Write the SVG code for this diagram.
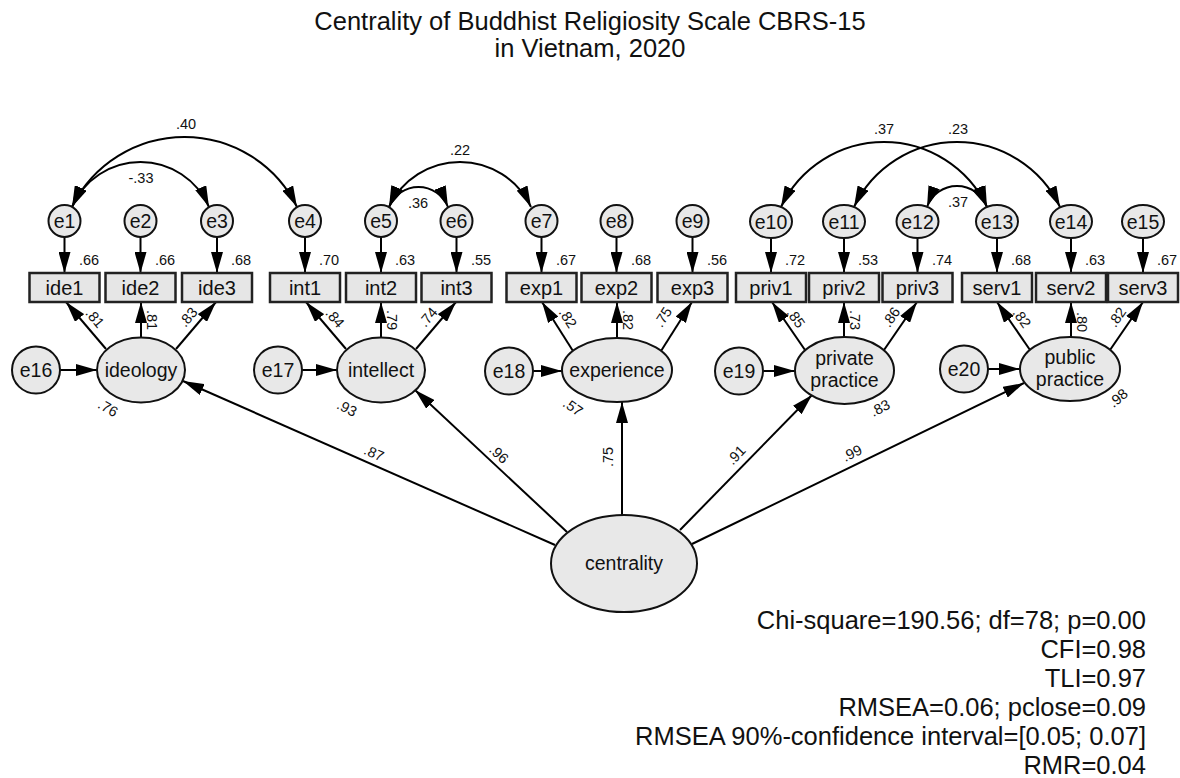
<svg xmlns="http://www.w3.org/2000/svg" width="1180" height="778" viewBox="0 0 1180 778">
<defs>
<marker id="ah" viewBox="0 0 21 12" refX="21" refY="6" markerWidth="21" markerHeight="12" markerUnits="userSpaceOnUse" orient="auto-start-reverse"><path d="M0,0 L21,6 L0,12 z" fill="#000"/></marker>
</defs>
<style>
text{font-family:"Liberation Sans",Arial,sans-serif;fill:#111}
.title{font-size:25.5px;text-anchor:middle}
.stat{font-size:25.5px;text-anchor:end}
.obs rect{fill:#e6e6e6;stroke:#222;stroke-width:2.5}
.lat ellipse,.err ellipse,.err circle{fill:#e8e8e8;stroke:#111;stroke-width:2}
.nt{font-size:20px;text-anchor:middle}
.lt{font-size:19.5px;text-anchor:middle}
.num{font-size:14.5px}
.c{text-anchor:middle}
.s{text-anchor:start}
#connectors path,#connectors line{stroke:#000;stroke-width:2;fill:none;marker-end:url(#ah)}
#connectors .cov{marker-start:url(#ah)}
</style>
<rect width="1180" height="778" fill="#fff"/>
<text class="title" x="590" y="30">Centrality of Buddhist Religiosity Scale CBRS-15</text>
<text class="title" x="590" y="57">in Vietnam, 2020</text>

<g id="connectors">
<path class="cov" d="M72,207 A125.4,125.4 0 0 1 297,207"/>
<path class="cov" d="M72,207 A74.6,74.6 0 0 1 209,207"/>
<path class="cov" d="M389,207 A78.5,78.5 0 0 1 531,207"/>
<path class="cov" d="M389,207 A31.8,31.8 0 0 1 448,207"/>
<path class="cov" d="M781,207 A114.1,114.1 0 0 1 987,207"/>
<path class="cov" d="M854,207 A114.1,114.1 0 0 1 1060,207"/>
<path class="cov" d="M927,207 A31.9,31.9 0 0 1 987,207"/>
<line x1="64.5" y1="237" x2="64.5" y2="273"/>
<line x1="140.5" y1="237" x2="140.5" y2="273"/>
<line x1="217" y1="237" x2="217" y2="273"/>
<line x1="305" y1="237" x2="305" y2="273"/>
<line x1="381" y1="237" x2="381" y2="273"/>
<line x1="456.5" y1="237" x2="456.5" y2="273"/>
<line x1="541.5" y1="237" x2="541.5" y2="273"/>
<line x1="616.5" y1="237" x2="616.5" y2="273"/>
<line x1="692.5" y1="237" x2="692.5" y2="273"/>
<line x1="771" y1="238" x2="771" y2="273"/>
<line x1="844" y1="238" x2="844" y2="273"/>
<line x1="917.5" y1="238" x2="917.5" y2="273"/>
<line x1="997" y1="238" x2="997" y2="273"/>
<line x1="1071" y1="238" x2="1071" y2="273"/>
<line x1="1143" y1="238" x2="1143" y2="273"/>
<line x1="106" y1="349" x2="66" y2="302"/>
<line x1="141" y1="337.5" x2="141" y2="302"/>
<line x1="176" y1="349" x2="216" y2="302"/>
<line x1="346" y1="349" x2="306" y2="302"/>
<line x1="381" y1="337.5" x2="381" y2="302"/>
<line x1="416" y1="349" x2="456" y2="302"/>
<line x1="573" y1="351" x2="542" y2="302"/>
<line x1="617" y1="338" x2="617" y2="302"/>
<line x1="661" y1="351" x2="692" y2="302"/>
<line x1="805" y1="350" x2="772" y2="302"/>
<line x1="844" y1="337" x2="844" y2="302"/>
<line x1="884" y1="350" x2="917" y2="302"/>
<line x1="1030" y1="350" x2="997" y2="302"/>
<line x1="1071" y1="337" x2="1071" y2="302"/>
<line x1="1110" y1="350" x2="1143" y2="302"/>
<line x1="60" y1="370" x2="97" y2="370"/>
<line x1="302" y1="370" x2="337" y2="370"/>
<line x1="533" y1="371" x2="562" y2="371"/>
<line x1="763" y1="371" x2="795" y2="371"/>
<line x1="988" y1="369" x2="1020" y2="369"/>
<line x1="555" y1="545" x2="183" y2="381"/>
<line x1="567" y1="532" x2="415" y2="390"/>
<line x1="622" y1="515" x2="622" y2="402"/>
<line x1="680" y1="530" x2="812" y2="395"/>
<line x1="692" y1="544" x2="1024" y2="383"/>
</g>

<g id="labels" class="num">
<text class="c" x="186" y="129">.40</text>
<text class="c" x="141" y="183">-.33</text>
<text class="c" x="460" y="155">.22</text>
<text class="c" x="418" y="208">.36</text>
<text class="c" x="884" y="134">.37</text>
<text class="c" x="958" y="134">.23</text>
<text class="c" x="958" y="207">.37</text>
<text class="s" x="79" y="265">.66</text>
<text class="s" x="155" y="265">.66</text>
<text class="s" x="231" y="265">.68</text>
<text class="s" x="319" y="265">.70</text>
<text class="s" x="395" y="265">.63</text>
<text class="s" x="471" y="265">.55</text>
<text class="s" x="556" y="265">.67</text>
<text class="s" x="631" y="265">.68</text>
<text class="s" x="707" y="265">.56</text>
<text class="s" x="785" y="265">.72</text>
<text class="s" x="858" y="265">.53</text>
<text class="s" x="932" y="265">.74</text>
<text class="s" x="1011" y="265">.68</text>
<text class="s" x="1085" y="265">.63</text>
<text class="s" x="1157" y="265">.67</text>
<g class="c">
<text transform="translate(95,318) rotate(50)" dy=".35em">.81</text>
<text transform="translate(152,320) rotate(90)" dy=".35em">.81</text>
<text transform="translate(188,317) rotate(-50)" dy=".35em">.83</text>
<text transform="translate(335,318) rotate(50)" dy=".35em">.84</text>
<text transform="translate(392,320) rotate(90)" dy=".35em">.79</text>
<text transform="translate(428,317) rotate(-50)" dy=".35em">.74</text>
<text transform="translate(568,318) rotate(57)" dy=".35em">.82</text>
<text transform="translate(628,320) rotate(90)" dy=".35em">.82</text>
<text transform="translate(663,317) rotate(-57)" dy=".35em">.75</text>
<text transform="translate(796,318) rotate(55)" dy=".35em">.85</text>
<text transform="translate(855,320) rotate(90)" dy=".35em">.73</text>
<text transform="translate(891,317) rotate(-55)" dy=".35em">.86</text>
<text transform="translate(1022,318) rotate(55)" dy=".35em">.82</text>
<text transform="translate(1082,322) rotate(90)" dy=".35em">.80</text>
<text transform="translate(1117,317) rotate(-55)" dy=".35em">.82</text>
<text transform="translate(108,408) rotate(30)" dy=".35em">.76</text>
<text transform="translate(347,408) rotate(27)" dy=".35em">.93</text>
<text transform="translate(573,407) rotate(35)" dy=".35em">.57</text>
<text transform="translate(880,408) rotate(-27)" dy=".35em">.83</text>
<text transform="translate(1118,398) rotate(-40)" dy=".35em">.98</text>
<text transform="translate(374,453) rotate(24)" dy=".35em">.87</text>
<text transform="translate(499,454) rotate(43)" dy=".35em">.96</text>
<text transform="translate(608,457) rotate(-90)" dy=".35em">.75</text>
<text transform="translate(736,455) rotate(-46)" dy=".35em">.91</text>
<text transform="translate(852,453) rotate(-26)" dy=".35em">.99</text>
</g>
</g>

<g id="e1" class="err"><circle cx="64.5" cy="221" r="16"/><text class="lt" x="64.5" y="228">e1</text></g>
<g id="e2" class="err"><circle cx="140.5" cy="221" r="16"/><text class="lt" x="140.5" y="228">e2</text></g>
<g id="e3" class="err"><circle cx="217" cy="221" r="16"/><text class="lt" x="217" y="228">e3</text></g>
<g id="e4" class="err"><circle cx="305" cy="221" r="16"/><text class="lt" x="305" y="228">e4</text></g>
<g id="e5" class="err"><circle cx="381" cy="221" r="16"/><text class="lt" x="381" y="228">e5</text></g>
<g id="e6" class="err"><circle cx="456.5" cy="221" r="16"/><text class="lt" x="456.5" y="228">e6</text></g>
<g id="e7" class="err"><circle cx="541.5" cy="221" r="16"/><text class="lt" x="541.5" y="228">e7</text></g>
<g id="e8" class="err"><circle cx="616.5" cy="221" r="16"/><text class="lt" x="616.5" y="228">e8</text></g>
<g id="e9" class="err"><circle cx="692.5" cy="221" r="16"/><text class="lt" x="692.5" y="228">e9</text></g>
<g id="e10" class="err"><ellipse cx="771" cy="221.5" rx="21" ry="16.5"/><text class="lt" x="771" y="228.5">e10</text></g>
<g id="e11" class="err"><ellipse cx="844" cy="221.5" rx="21" ry="16.5"/><text class="lt" x="844" y="228.5">e11</text></g>
<g id="e12" class="err"><ellipse cx="917.5" cy="221.5" rx="21" ry="16.5"/><text class="lt" x="917.5" y="228.5">e12</text></g>
<g id="e13" class="err"><ellipse cx="997" cy="221.5" rx="21" ry="16.5"/><text class="lt" x="997" y="228.5">e13</text></g>
<g id="e14" class="err"><ellipse cx="1071" cy="221.5" rx="21" ry="16.5"/><text class="lt" x="1071" y="228.5">e14</text></g>
<g id="e15" class="err"><ellipse cx="1143" cy="221.5" rx="21" ry="16.5"/><text class="lt" x="1143" y="228.5">e15</text></g>

<g id="ide1" class="obs"><rect x="29.5" y="273" width="70" height="29"/><text class="nt" x="64.5" y="294.5">ide1</text></g>
<g id="ide2" class="obs"><rect x="105.5" y="273" width="70" height="29"/><text class="nt" x="140.5" y="294.5">ide2</text></g>
<g id="ide3" class="obs"><rect x="182" y="273" width="70" height="29"/><text class="nt" x="217" y="294.5">ide3</text></g>
<g id="int1" class="obs"><rect x="270" y="273" width="70" height="29"/><text class="nt" x="305" y="294.5">int1</text></g>
<g id="int2" class="obs"><rect x="346" y="273" width="70" height="29"/><text class="nt" x="381" y="294.5">int2</text></g>
<g id="int3" class="obs"><rect x="421.5" y="273" width="70" height="29"/><text class="nt" x="456.5" y="294.5">int3</text></g>
<g id="exp1" class="obs"><rect x="506.5" y="273" width="70" height="29"/><text class="nt" x="541.5" y="294.5">exp1</text></g>
<g id="exp2" class="obs"><rect x="581.5" y="273" width="70" height="29"/><text class="nt" x="616.5" y="294.5">exp2</text></g>
<g id="exp3" class="obs"><rect x="657.5" y="273" width="70" height="29"/><text class="nt" x="692.5" y="294.5">exp3</text></g>
<g id="priv1" class="obs"><rect x="736" y="273" width="70" height="29"/><text class="nt" x="771" y="294.5">priv1</text></g>
<g id="priv2" class="obs"><rect x="809" y="273" width="70" height="29"/><text class="nt" x="844" y="294.5">priv2</text></g>
<g id="priv3" class="obs"><rect x="882.5" y="273" width="70" height="29"/><text class="nt" x="917.5" y="294.5">priv3</text></g>
<g id="serv1" class="obs"><rect x="962" y="273" width="70" height="29"/><text class="nt" x="997" y="294.5">serv1</text></g>
<g id="serv2" class="obs"><rect x="1036" y="273" width="70" height="29"/><text class="nt" x="1071" y="294.5">serv2</text></g>
<g id="serv3" class="obs"><rect x="1108" y="273" width="70" height="29"/><text class="nt" x="1143" y="294.5">serv3</text></g>

<g id="e16" class="err"><ellipse cx="36" cy="370" rx="24" ry="23.5"/><text class="lt" x="36" y="377">e16</text></g>
<g id="e17" class="err"><ellipse cx="278" cy="370" rx="24" ry="23.5"/><text class="lt" x="278" y="377">e17</text></g>
<g id="e18" class="err"><ellipse cx="509" cy="371" rx="24" ry="23.5"/><text class="lt" x="509" y="378">e18</text></g>
<g id="e19" class="err"><ellipse cx="739" cy="371" rx="24" ry="23.5"/><text class="lt" x="739" y="378">e19</text></g>
<g id="e20" class="err"><ellipse cx="964" cy="369" rx="24" ry="23.5"/><text class="lt" x="964" y="376">e20</text></g>

<g id="ideology" class="lat"><ellipse cx="141" cy="370" rx="44" ry="32.5"/><text class="lt" x="141" y="377">ideology</text></g>
<g id="intellect" class="lat"><ellipse cx="381" cy="370" rx="44" ry="32.5"/><text class="lt" x="381" y="377">intellect</text></g>
<g id="experience" class="lat"><ellipse cx="617" cy="370" rx="55" ry="32"/><text class="lt" x="617" y="377">experience</text></g>
<g id="private_practice" class="lat"><ellipse cx="844.5" cy="370.5" rx="49.5" ry="33.5"/><text class="lt" x="844.5" y="365">private</text><text class="lt" x="844.5" y="387">practice</text></g>
<g id="public_practice" class="lat"><ellipse cx="1070" cy="369" rx="50" ry="32"/><text class="lt" x="1070" y="364">public</text><text class="lt" x="1070" y="386">practice</text></g>
<g id="centrality" class="lat"><ellipse cx="624" cy="563.5" rx="73" ry="48.5"/><text class="lt" x="624" y="570">centrality</text></g>

<g id="fit">
<text class="stat" x="1146" y="629">Chi-square=190.56; df=78; p=0.00</text>
<text class="stat" x="1146" y="658">CFI=0.98</text>
<text class="stat" x="1146" y="687">TLI=0.97</text>
<text class="stat" x="1146" y="716">RMSEA=0.06; pclose=0.09</text>
<text class="stat" x="1146" y="745">RMSEA 90%-confidence interval=[0.05; 0.07]</text>
<text class="stat" x="1146" y="774">RMR=0.04</text>
</g>
</svg>
